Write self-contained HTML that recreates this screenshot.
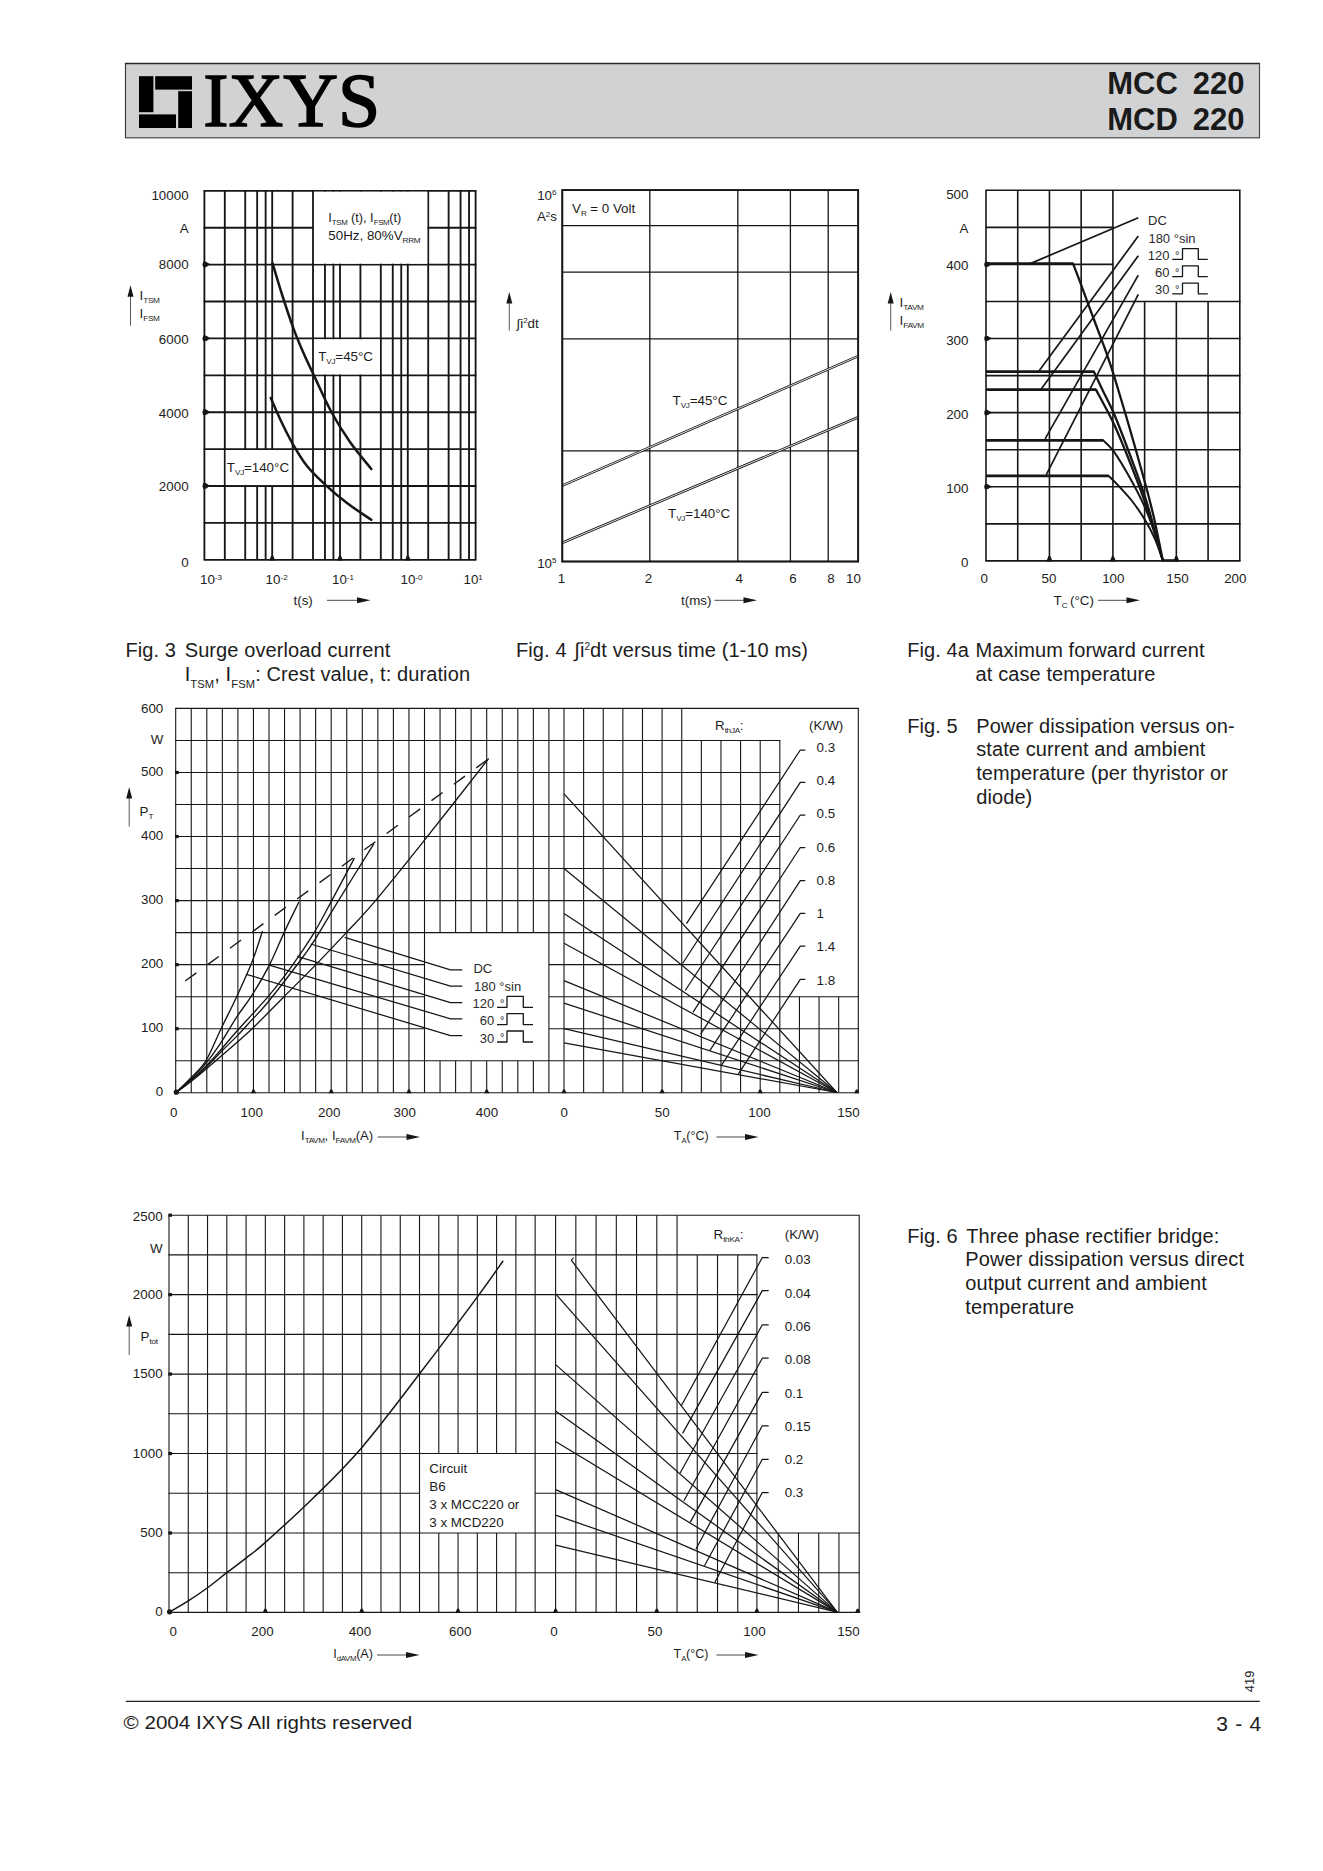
<!DOCTYPE html>
<html lang="en">
<head>
<meta charset="utf-8">
<title>IXYS MCC 220 / MCD 220</title>
<style>
html,body{margin:0;padding:0;background:#fff;}
body{width:1323px;height:1871px;overflow:hidden;}
svg{display:block;position:absolute;left:0;top:0;}
text{font-family:"Liberation Sans",sans-serif;fill:#1c1c1c;}
.serif{font-family:"Liberation Serif",serif;}
.b{font-weight:bold;}
</style>
</head>
<body>
<svg width="1323" height="1871" viewBox="0 0 1323 1871">
<rect x="125.5" y="63.5" width="1134" height="74.2" fill="#d1d2d4" stroke="none" stroke-width="0"/>
<line x1="124.9" y1="63.5" x2="1260.1" y2="63.5" stroke="#262626" stroke-width="1.3"/>
<line x1="124.9" y1="137.7" x2="1260.1" y2="137.7" stroke="#666" stroke-width="1.5"/>
<line x1="125.5" y1="63.5" x2="125.5" y2="137.7" stroke="#3c3c3c" stroke-width="1.2"/>
<line x1="1259.5" y1="63.5" x2="1259.5" y2="137.7" stroke="#4a4a4a" stroke-width="1.2"/>
<rect x="139" y="76.2" width="14.4" height="36" fill="#000" stroke="none" stroke-width="0"/>
<rect x="155.2" y="76.2" width="36.8" height="13.4" fill="#000" stroke="none" stroke-width="0"/>
<rect x="178.2" y="91.2" width="13.8" height="36.8" fill="#000" stroke="none" stroke-width="0"/>
<rect x="139" y="114.4" width="37" height="13.6" fill="#000" stroke="none" stroke-width="0"/>
<text x="203.2" y="126.2" font-size="75.2" style="fill:#000" class="serif" stroke="#000" stroke-width="1.5" stroke-linejoin="miter" textLength="177" lengthAdjust="spacingAndGlyphs">IXYS</text>
<text x="1107.3" y="94.4" font-size="31" style="fill:#1a1a1a" class="b">MCC</text>
<text x="1244.6" y="94.4" font-size="31" text-anchor="end" style="fill:#1a1a1a" class="b">220</text>
<text x="1107.3" y="130.2" font-size="31" style="fill:#1a1a1a" class="b">MCD</text>
<text x="1244.6" y="130.2" font-size="31" text-anchor="end" style="fill:#1a1a1a" class="b">220</text>
<line x1="125.8" y1="1701.4" x2="1259.8" y2="1701.4" stroke="#222" stroke-width="1.1"/>
<text x="123.6" y="1728.9" font-size="19.2" textLength="288.6" lengthAdjust="spacingAndGlyphs">© 2004 IXYS All rights reserved</text>
<text x="1261.9" y="1731" font-size="21" text-anchor="end" letter-spacing="0.7">3 - 4</text>
<text x="1254.3" y="1692.3" font-size="13" transform="rotate(-90 1254.3 1692.3)">419</text>
<text x="125.4" y="656.5" font-size="20" letter-spacing="0.1">Fig. 3</text>
<text x="184.7" y="656.5" font-size="20" letter-spacing="0.1">Surge overload current</text>
<text x="184.7" y="680.7" font-size="20" letter-spacing="0.1">I<tspan font-size="11.2" dy="6.8">TSM</tspan><tspan dy="-6.8">, I</tspan><tspan font-size="11.2" dy="6.8">FSM</tspan><tspan dy="-6.8">: Crest value, t: duration</tspan></text>
<text x="516" y="656.5" font-size="20" letter-spacing="0.1">Fig. 4</text>
<text x="574.3" y="656.5" font-size="20" letter-spacing="0.1">∫i<tspan font-size="10" dy="-6.5">2</tspan><tspan dy="6.5">dt versus time (1-10 ms)</tspan></text>
<text x="907.2" y="656.5" font-size="20" letter-spacing="0.1">Fig. 4a</text>
<text x="975.6" y="656.5" font-size="20" letter-spacing="0.1">Maximum forward current</text>
<text x="975.6" y="680.7" font-size="20" letter-spacing="0.1">at case temperature</text>
<text x="907.2" y="732.6" font-size="20" letter-spacing="0.1">Fig. 5</text>
<text x="976.2" y="732.6" font-size="20" letter-spacing="0.1">Power dissipation versus on-</text>
<text x="976.2" y="756.4" font-size="20" letter-spacing="0.1">state current and ambient</text>
<text x="976.2" y="780.2" font-size="20" letter-spacing="0.1">temperature (per thyristor or</text>
<text x="976.2" y="804" font-size="20" letter-spacing="0.1">diode)</text>
<text x="907.2" y="1242.5" font-size="20" letter-spacing="0.1">Fig. 6</text>
<text x="966.3" y="1242.5" font-size="20" letter-spacing="0.1">Three phase rectifier bridge:</text>
<text x="965.3" y="1266.4" font-size="20" letter-spacing="0.1">Power dissipation versus direct</text>
<text x="965.3" y="1290.3" font-size="20" letter-spacing="0.1">output current and ambient</text>
<text x="965.3" y="1314.1" font-size="20" letter-spacing="0.1">temperature</text>
<line x1="204.4" y1="190.8" x2="204.4" y2="559.8" stroke="#161616" stroke-width="1.85"/>
<line x1="224.81" y1="190.8" x2="224.81" y2="559.8" stroke="#161616" stroke-width="1.85"/>
<line x1="245.22" y1="190.8" x2="245.22" y2="559.8" stroke="#161616" stroke-width="1.85"/>
<line x1="257.16" y1="190.8" x2="257.16" y2="559.8" stroke="#161616" stroke-width="1.85"/>
<line x1="265.63" y1="190.8" x2="265.63" y2="559.8" stroke="#161616" stroke-width="1.85"/>
<line x1="272.2" y1="190.8" x2="272.2" y2="559.8" stroke="#161616" stroke-width="1.85"/>
<line x1="292.61" y1="190.8" x2="292.61" y2="559.8" stroke="#161616" stroke-width="1.85"/>
<line x1="313.02" y1="190.8" x2="313.02" y2="559.8" stroke="#161616" stroke-width="1.85"/>
<line x1="324.96" y1="190.8" x2="324.96" y2="559.8" stroke="#161616" stroke-width="1.85"/>
<line x1="333.43" y1="190.8" x2="333.43" y2="559.8" stroke="#161616" stroke-width="1.85"/>
<line x1="340" y1="190.8" x2="340" y2="559.8" stroke="#161616" stroke-width="1.85"/>
<line x1="360.41" y1="190.8" x2="360.41" y2="559.8" stroke="#161616" stroke-width="1.85"/>
<line x1="380.82" y1="190.8" x2="380.82" y2="559.8" stroke="#161616" stroke-width="1.85"/>
<line x1="392.76" y1="190.8" x2="392.76" y2="559.8" stroke="#161616" stroke-width="1.85"/>
<line x1="401.23" y1="190.8" x2="401.23" y2="559.8" stroke="#161616" stroke-width="1.85"/>
<line x1="407.8" y1="190.8" x2="407.8" y2="559.8" stroke="#161616" stroke-width="1.85"/>
<line x1="428.21" y1="190.8" x2="428.21" y2="559.8" stroke="#161616" stroke-width="1.85"/>
<line x1="448.62" y1="190.8" x2="448.62" y2="559.8" stroke="#161616" stroke-width="1.85"/>
<line x1="460.56" y1="190.8" x2="460.56" y2="559.8" stroke="#161616" stroke-width="1.85"/>
<line x1="469.03" y1="190.8" x2="469.03" y2="559.8" stroke="#161616" stroke-width="1.85"/>
<line x1="475.6" y1="190.8" x2="475.6" y2="559.8" stroke="#161616" stroke-width="1.85"/>
<line x1="203.6" y1="190.8" x2="476.4" y2="190.8" stroke="#161616" stroke-width="1.85"/>
<line x1="203.6" y1="227.7" x2="476.4" y2="227.7" stroke="#161616" stroke-width="1.85"/>
<line x1="203.6" y1="264.6" x2="476.4" y2="264.6" stroke="#161616" stroke-width="1.85"/>
<line x1="203.6" y1="301.5" x2="476.4" y2="301.5" stroke="#161616" stroke-width="1.85"/>
<line x1="203.6" y1="338.4" x2="476.4" y2="338.4" stroke="#161616" stroke-width="1.85"/>
<line x1="203.6" y1="375.3" x2="476.4" y2="375.3" stroke="#161616" stroke-width="1.85"/>
<line x1="203.6" y1="412.2" x2="476.4" y2="412.2" stroke="#161616" stroke-width="1.85"/>
<line x1="203.6" y1="449.1" x2="476.4" y2="449.1" stroke="#161616" stroke-width="1.85"/>
<line x1="203.6" y1="486" x2="476.4" y2="486" stroke="#161616" stroke-width="1.85"/>
<line x1="203.6" y1="522.9" x2="476.4" y2="522.9" stroke="#161616" stroke-width="1.85"/>
<line x1="203.6" y1="559.8" x2="476.4" y2="559.8" stroke="#161616" stroke-width="1.85"/>
<rect x="313.94" y="191.73" width="113.34" height="71.95" fill="#fff" stroke="none" stroke-width="0"/>
<rect x="313.94" y="339.32" width="65.95" height="35.05" fill="#fff" stroke="none" stroke-width="0"/>
<rect x="225.73" y="450.02" width="65.95" height="35.05" fill="#fff" stroke="none" stroke-width="0"/>
<path d="M272.6 263.3 C274.25 268.75 278.97 284.98 282.5 296 C286.03 307.02 290.3 319.9 293.8 329.4 C297.3 338.9 300.15 345.33 303.5 353 C306.85 360.67 309.3 365.65 313.9 375.4 C318.5 385.15 325.08 400.4 331.1 411.5 C337.12 422.6 343.3 432.42 350 442 C356.7 451.58 367.75 464.5 371.3 469" fill="none" stroke="#161616" stroke-width="2.5" stroke-linecap="round"/>
<path d="M270.8 398 C272.5 401.83 277.42 413.48 281 421 C284.58 428.52 287.97 435.6 292.3 443.1 C296.63 450.6 301.48 459.05 307 466 C312.52 472.95 318.73 478.63 325.4 484.8 C332.07 490.97 339.35 497.17 347 503 C354.65 508.83 367.25 517 371.3 519.8" fill="none" stroke="#161616" stroke-width="2.5" stroke-linecap="round"/>
<polygon points="203.2,261.6 205.6,261.8 210.9,264.6 203.2,267.6" fill="#161616"/>
<circle cx="205.2" cy="264.6" r="2.7" fill="#161616"/>
<polygon points="203.2,335.4 205.6,335.6 210.9,338.4 203.2,341.4" fill="#161616"/>
<circle cx="205.2" cy="338.4" r="2.7" fill="#161616"/>
<polygon points="203.2,409.2 205.6,409.4 210.9,412.2 203.2,415.2" fill="#161616"/>
<circle cx="205.2" cy="412.2" r="2.7" fill="#161616"/>
<polygon points="203.2,483 205.6,483.2 210.9,486 203.2,489" fill="#161616"/>
<circle cx="205.2" cy="486" r="2.7" fill="#161616"/>
<polygon points="269.2,560.4 275.2,560.4 273.1,555.4 271.3,555.4" fill="#161616"/>
<polygon points="337,560.4 343,560.4 340.9,555.4 339.1,555.4" fill="#161616"/>
<polygon points="404.8,560.4 410.8,560.4 408.7,555.4 406.9,555.4" fill="#161616"/>
<text transform="translate(188.6 199.6) scale(1.07 1)" font-size="12.5" text-anchor="end">10000</text>
<text transform="translate(188.6 233.3) scale(1.07 1)" font-size="12.5" text-anchor="end">A</text>
<text transform="translate(188.6 269.3) scale(1.07 1)" font-size="12.5" text-anchor="end">8000</text>
<text transform="translate(188.6 344) scale(1.07 1)" font-size="12.5" text-anchor="end">6000</text>
<text transform="translate(188.6 418.3) scale(1.07 1)" font-size="12.5" text-anchor="end">4000</text>
<text transform="translate(188.6 490.6) scale(1.07 1)" font-size="12.5" text-anchor="end">2000</text>
<text transform="translate(188.6 566.5) scale(1.07 1)" font-size="12.5" text-anchor="end">0</text>
<line x1="130.5" y1="295.7" x2="130.5" y2="325.7" stroke="#444" stroke-width="0.9"/>
<polygon points="130.5,285.2 127.5,296.7 133.5,296.7" fill="#161616"/>
<text transform="translate(139.5 300.3) scale(1.07 1)" font-size="12.5">I<tspan font-size="7.7" dy="3.1" letter-spacing="-0.3">TSM</tspan></text>
<text transform="translate(139.5 317.9) scale(1.07 1)" font-size="12.5">I<tspan font-size="7.7" dy="3.1" letter-spacing="-0.3">FSM</tspan></text>
<text transform="translate(200 584) scale(1.07 1)" font-size="12.5">10<tspan font-size="7.5" dy="-4.5">-3</tspan></text>
<text transform="translate(265.6 584) scale(1.07 1)" font-size="12.5">10<tspan font-size="7.5" dy="-4.5">-2</tspan></text>
<text transform="translate(332 584) scale(1.07 1)" font-size="12.5">10<tspan font-size="7.5" dy="-4.5">-1</tspan></text>
<text transform="translate(400.5 584) scale(1.07 1)" font-size="12.5">10<tspan font-size="7.5" dy="-4.5">-0</tspan></text>
<text transform="translate(463.5 584) scale(1.07 1)" font-size="12.5">10<tspan font-size="7.5" dy="-4.5">1</tspan></text>
<text transform="translate(293.5 605) scale(1.07 1)" font-size="12.5">t(s)</text>
<line x1="327" y1="600.3" x2="358" y2="600.3" stroke="#333" stroke-width="0.9"/>
<polygon points="370.5,600.3 357,597.3 357,603.3" fill="#161616"/>
<text transform="translate(328.3 222.2) scale(1.02 1)" font-size="12.5">I<tspan font-size="7.7" dy="3.1" letter-spacing="-0.3">TSM</tspan><tspan dy="-3.1"> (t), I</tspan><tspan font-size="7.7" dy="3.1" letter-spacing="-0.3">FSM</tspan><tspan dy="-3.1">(t)</tspan></text>
<text transform="translate(328.3 240) scale(1.07 1)" font-size="12.5">50Hz, 80%V<tspan font-size="7.7" dy="3.1" letter-spacing="-0.3">RRM</tspan></text>
<text transform="translate(318.2 361) scale(1.07 1)" font-size="12.5">T<tspan font-size="7.7" dy="3.1" letter-spacing="-0.3">VJ</tspan><tspan dy="-3.1">=45°C</tspan></text>
<text transform="translate(226.8 471.9) scale(1.07 1)" font-size="12.5">T<tspan font-size="7.7" dy="3.1" letter-spacing="-0.3">VJ</tspan><tspan dy="-3.1">=140°C</tspan></text>
<line x1="649.8" y1="190.1" x2="649.8" y2="561.5" stroke="#161616" stroke-width="1.3"/>
<line x1="737.8" y1="190.1" x2="737.8" y2="561.5" stroke="#161616" stroke-width="1.3"/>
<line x1="790.4" y1="190.1" x2="790.4" y2="561.5" stroke="#161616" stroke-width="1.3"/>
<line x1="828.2" y1="190.1" x2="828.2" y2="561.5" stroke="#161616" stroke-width="1.3"/>
<line x1="562.3" y1="450.9" x2="858.2" y2="450.9" stroke="#161616" stroke-width="1.3"/>
<line x1="562.3" y1="338.9" x2="858.2" y2="338.9" stroke="#161616" stroke-width="1.3"/>
<line x1="562.3" y1="272.2" x2="858.2" y2="272.2" stroke="#161616" stroke-width="1.3"/>
<line x1="562.3" y1="225.6" x2="858.2" y2="225.6" stroke="#161616" stroke-width="1.3"/>
<rect x="562.3" y="190.1" width="295.9" height="371.4" fill="none" stroke="#161616" stroke-width="1.7"/>
<line x1="562.3" y1="485.6" x2="858.2" y2="356.1" stroke="#161616" stroke-width="2.6"/>
<line x1="562.3" y1="485.6" x2="858.2" y2="356.1" stroke="#fff" stroke-width="0.9"/>
<line x1="562.3" y1="542.8" x2="858.2" y2="417.3" stroke="#161616" stroke-width="2.6"/>
<line x1="562.3" y1="542.8" x2="858.2" y2="417.3" stroke="#fff" stroke-width="0.9"/>
<rect x="562.3" y="190.1" width="295.9" height="371.4" fill="none" stroke="#161616" stroke-width="1.7"/>
<text transform="translate(556.5 199.6) scale(1.07 1)" font-size="12.5" text-anchor="end">10<tspan font-size="7.5" dy="-4.5">6</tspan></text>
<text transform="translate(557 221) scale(1.07 1)" font-size="12.5" text-anchor="end">A<tspan font-size="7.5" dy="-4.5">2</tspan><tspan dy="4.5">s</tspan></text>
<text transform="translate(556.5 567.5) scale(1.07 1)" font-size="12.5" text-anchor="end">10<tspan font-size="7.5" dy="-4.5">5</tspan></text>
<line x1="509.3" y1="302.5" x2="509.3" y2="330.5" stroke="#444" stroke-width="0.9"/>
<polygon points="509.3,292 506.3,303.5 512.3,303.5" fill="#161616"/>
<text transform="translate(516.5 327.5) scale(1.07 1)" font-size="12.5">∫i<tspan font-size="7.5" dy="-4.5">2</tspan><tspan dy="4.5">dt</tspan></text>
<text transform="translate(561.5 582.5) scale(1.07 1)" font-size="12.5" text-anchor="middle">1</text>
<text transform="translate(648.5 582.5) scale(1.07 1)" font-size="12.5" text-anchor="middle">2</text>
<text transform="translate(739.2 582.5) scale(1.07 1)" font-size="12.5" text-anchor="middle">4</text>
<text transform="translate(793 582.5) scale(1.07 1)" font-size="12.5" text-anchor="middle">6</text>
<text transform="translate(831 582.5) scale(1.07 1)" font-size="12.5" text-anchor="middle">8</text>
<text transform="translate(853.5 582.5) scale(1.07 1)" font-size="12.5" text-anchor="middle">10</text>
<text transform="translate(681 605) scale(1.07 1)" font-size="12.5">t(ms)</text>
<line x1="714.5" y1="600.3" x2="744.5" y2="600.3" stroke="#333" stroke-width="0.9"/>
<polygon points="757,600.3 743.5,597.3 743.5,603.3" fill="#161616"/>
<text transform="translate(572 212.5) scale(1.07 1)" font-size="12.5">V<tspan font-size="7.7" dy="3.1" letter-spacing="-0.3">R</tspan><tspan dy="-3.1"> = 0 Volt</tspan></text>
<text transform="translate(672.5 405.3) scale(1.07 1)" font-size="12.5">T<tspan font-size="7.7" dy="3.1" letter-spacing="-0.3">VJ</tspan><tspan dy="-3.1">=45°C</tspan></text>
<text transform="translate(668 517.5) scale(1.07 1)" font-size="12.5">T<tspan font-size="7.7" dy="3.1" letter-spacing="-0.3">VJ</tspan><tspan dy="-3.1">=140°C</tspan></text>
<line x1="986" y1="190.3" x2="986" y2="560.9" stroke="#161616" stroke-width="1.6"/>
<line x1="1017.73" y1="190.3" x2="1017.73" y2="560.9" stroke="#161616" stroke-width="1.6"/>
<line x1="1049.45" y1="190.3" x2="1049.45" y2="560.9" stroke="#161616" stroke-width="1.6"/>
<line x1="1081.17" y1="190.3" x2="1081.17" y2="560.9" stroke="#161616" stroke-width="1.6"/>
<line x1="1112.9" y1="190.3" x2="1112.9" y2="560.9" stroke="#161616" stroke-width="1.6"/>
<line x1="1144.62" y1="301.48" x2="1144.62" y2="560.9" stroke="#161616" stroke-width="1.6"/>
<line x1="1176.35" y1="301.48" x2="1176.35" y2="560.9" stroke="#161616" stroke-width="1.6"/>
<line x1="1208.08" y1="301.48" x2="1208.08" y2="560.9" stroke="#161616" stroke-width="1.6"/>
<line x1="1239.8" y1="190.3" x2="1239.8" y2="560.9" stroke="#161616" stroke-width="1.6"/>
<line x1="985.3" y1="190.3" x2="1240.5" y2="190.3" stroke="#161616" stroke-width="1.6"/>
<line x1="985.3" y1="227.36" x2="1113.6" y2="227.36" stroke="#161616" stroke-width="1.6"/>
<line x1="985.3" y1="264.42" x2="1113.6" y2="264.42" stroke="#161616" stroke-width="1.6"/>
<line x1="985.3" y1="301.48" x2="1240.5" y2="301.48" stroke="#161616" stroke-width="1.6"/>
<line x1="985.3" y1="338.54" x2="1240.5" y2="338.54" stroke="#161616" stroke-width="1.6"/>
<line x1="985.3" y1="375.6" x2="1240.5" y2="375.6" stroke="#161616" stroke-width="1.6"/>
<line x1="985.3" y1="412.66" x2="1240.5" y2="412.66" stroke="#161616" stroke-width="1.6"/>
<line x1="985.3" y1="449.72" x2="1240.5" y2="449.72" stroke="#161616" stroke-width="1.6"/>
<line x1="985.3" y1="486.78" x2="1240.5" y2="486.78" stroke="#161616" stroke-width="1.6"/>
<line x1="985.3" y1="523.84" x2="1240.5" y2="523.84" stroke="#161616" stroke-width="1.6"/>
<line x1="985.3" y1="560.9" x2="1240.5" y2="560.9" stroke="#161616" stroke-width="1.6"/>
<polyline points="986,263.6 1073,263.6" fill="none" stroke="#161616" stroke-width="2.6" stroke-linejoin="round"/>
<path d="M1073 263.6 C1074.42 267.3 1078.17 276.9 1081.5 285.8 C1084.83 294.7 1089.02 306.3 1093 317 C1096.98 327.7 1101.92 340.27 1105.4 350 C1108.88 359.73 1109.97 362.73 1113.9 375.4 C1117.83 388.07 1123.88 408.37 1129 426 C1134.12 443.63 1140.43 465.87 1144.6 481.2 C1148.77 496.53 1150.97 504.8 1154 518 C1157.03 531.2 1161.33 553.33 1162.8 560.4" fill="none" stroke="#161616" stroke-width="2.3" stroke-linecap="round"/>
<polyline points="986,371.6 1093.8,371.6" fill="none" stroke="#161616" stroke-width="2.8" stroke-linejoin="round"/>
<path d="M1093.8 371.6 C1095.33 374.83 1099.65 384.02 1103 391 C1106.35 397.98 1109.4 402.83 1113.9 413.5 C1118.4 424.17 1124.65 440.58 1130 455 C1135.35 469.42 1140.53 482.43 1146 500 C1151.47 517.57 1160 550.33 1162.8 560.4" fill="none" stroke="#161616" stroke-width="2.3" stroke-linecap="round"/>
<polyline points="986,389.6 1095.9,389.6" fill="none" stroke="#161616" stroke-width="2.6" stroke-linejoin="round"/>
<path d="M1095.9 389.6 C1098.9 395.33 1108.05 411.43 1113.9 424 C1119.75 436.57 1125.48 451 1131 465 C1136.52 479 1141.7 492.1 1147 508 C1152.3 523.9 1160.17 551.67 1162.8 560.4" fill="none" stroke="#161616" stroke-width="2.3" stroke-linecap="round"/>
<polyline points="986,440.4 1103.3,440.4" fill="none" stroke="#161616" stroke-width="2.6" stroke-linejoin="round"/>
<path d="M1103.3 440.4 C1105.07 442.27 1109.45 445.33 1113.9 451.6 C1118.35 457.87 1124.88 468.83 1130 478 C1135.12 487.17 1140.43 497.27 1144.6 506.6 C1148.77 515.93 1151.97 525.03 1155 534 C1158.03 542.97 1161.5 556 1162.8 560.4" fill="none" stroke="#161616" stroke-width="2" stroke-linecap="round"/>
<polyline points="986,475.9 1108.6,475.9" fill="none" stroke="#161616" stroke-width="2.6" stroke-linejoin="round"/>
<path d="M1108.6 475.9 C1110.18 477.48 1114.2 481.22 1118.1 485.4 C1122 489.58 1127.58 495.35 1132 501 C1136.42 506.65 1140.77 512.97 1144.6 519.3 C1148.43 525.63 1151.97 532.15 1155 539 C1158.03 545.85 1161.5 556.83 1162.8 560.4" fill="none" stroke="#161616" stroke-width="2" stroke-linecap="round"/>
<polyline points="1162.8,560.4 1178,560.4" fill="none" stroke="#161616" stroke-width="2.4" stroke-linejoin="round"/>
<line x1="1030.3" y1="263.6" x2="1138.3" y2="217.7" stroke="#161616" stroke-width="1.7"/>
<line x1="1038.8" y1="371.2" x2="1138.3" y2="236.1" stroke="#161616" stroke-width="1.7"/>
<line x1="1040.9" y1="389.6" x2="1138.3" y2="255.8" stroke="#161616" stroke-width="1.7"/>
<line x1="1045.1" y1="438.9" x2="1138.3" y2="275.2" stroke="#161616" stroke-width="1.7"/>
<line x1="1046.2" y1="474.9" x2="1138.3" y2="294.3" stroke="#161616" stroke-width="1.7"/>
<polygon points="984.8,261.62 987.2,261.82 992.5,264.42 984.8,267.22" fill="#161616"/>
<circle cx="986.8" cy="264.42" r="2.5" fill="#161616"/>
<polygon points="984.8,335.74 987.2,335.94 992.5,338.54 984.8,341.34" fill="#161616"/>
<circle cx="986.8" cy="338.54" r="2.5" fill="#161616"/>
<polygon points="984.8,409.86 987.2,410.06 992.5,412.66 984.8,415.46" fill="#161616"/>
<circle cx="986.8" cy="412.66" r="2.5" fill="#161616"/>
<polygon points="984.8,483.98 987.2,484.18 992.5,486.78 984.8,489.58" fill="#161616"/>
<circle cx="986.8" cy="486.78" r="2.5" fill="#161616"/>
<polygon points="1046.25,561.5 1052.65,561.5 1050.35,556 1048.55,556" fill="#161616"/>
<polygon points="1109.7,561.5 1116.1,561.5 1113.8,556 1112,556" fill="#161616"/>
<polygon points="1173.15,561.5 1179.55,561.5 1177.25,556 1175.45,556" fill="#161616"/>
<text transform="translate(968.5 199.2) scale(1.07 1)" font-size="12.5" text-anchor="end">500</text>
<text transform="translate(968.5 233.3) scale(1.07 1)" font-size="12.5" text-anchor="end">A</text>
<text transform="translate(968.5 269.5) scale(1.07 1)" font-size="12.5" text-anchor="end">400</text>
<text transform="translate(968.5 344.5) scale(1.07 1)" font-size="12.5" text-anchor="end">300</text>
<text transform="translate(968.5 418.7) scale(1.07 1)" font-size="12.5" text-anchor="end">200</text>
<text transform="translate(968.5 492.7) scale(1.07 1)" font-size="12.5" text-anchor="end">100</text>
<text transform="translate(968.5 566.5) scale(1.07 1)" font-size="12.5" text-anchor="end">0</text>
<line x1="890.7" y1="302.5" x2="890.7" y2="330.5" stroke="#444" stroke-width="0.9"/>
<polygon points="890.7,292 887.7,303.5 893.7,303.5" fill="#161616"/>
<text transform="translate(899.5 307) scale(1.07 1)" font-size="12.5">I<tspan font-size="7.7" dy="3.1" letter-spacing="-0.3">TAVM</tspan></text>
<text transform="translate(899.5 325) scale(1.07 1)" font-size="12.5">I<tspan font-size="7.7" dy="3.1" letter-spacing="-0.3">FAVM</tspan></text>
<text transform="translate(984.3 582.5) scale(1.07 1)" font-size="12.5" text-anchor="middle">0</text>
<text transform="translate(1049 582.5) scale(1.07 1)" font-size="12.5" text-anchor="middle">50</text>
<text transform="translate(1113.3 582.5) scale(1.07 1)" font-size="12.5" text-anchor="middle">100</text>
<text transform="translate(1177.5 582.5) scale(1.07 1)" font-size="12.5" text-anchor="middle">150</text>
<text transform="translate(1235.3 582.5) scale(1.07 1)" font-size="12.5" text-anchor="middle">200</text>
<text transform="translate(1053.5 605) scale(1.07 1)" font-size="12.5">T<tspan font-size="7.7" dy="3.1" letter-spacing="-0.3">C</tspan><tspan dy="-3.1"> (°C)</tspan></text>
<line x1="1098" y1="600.3" x2="1127.5" y2="600.3" stroke="#333" stroke-width="0.9"/>
<polygon points="1140,600.3 1126.5,597.3 1126.5,603.3" fill="#161616"/>
<text transform="translate(1148 225.2) scale(1 1)" font-size="13" style="fill:#2b2b2b">DC</text>
<text transform="translate(1148.4 242.7) scale(1 1)" font-size="13" style="fill:#2b2b2b">180 °sin</text>
<text transform="translate(1169.5 259.8) scale(1 1)" font-size="13" text-anchor="end" style="fill:#2b2b2b">120</text>
<text transform="translate(1174.9 258.9) scale(1 1)" font-size="11">°</text>
<polyline points="1172.2,259.3 1182.5,259.3 1182.5,248.6 1198.3,248.6 1198.3,259.3 1207.8,259.3" fill="none" stroke="#161616" stroke-width="1.3" stroke-linejoin="round"/>
<text transform="translate(1169.5 277.1) scale(1 1)" font-size="13" text-anchor="end" style="fill:#2b2b2b">60</text>
<text transform="translate(1174.9 276.2) scale(1 1)" font-size="11">°</text>
<polyline points="1172.2,276.6 1182.5,276.6 1182.5,265.9 1198.3,265.9 1198.3,276.6 1207.8,276.6" fill="none" stroke="#161616" stroke-width="1.3" stroke-linejoin="round"/>
<text transform="translate(1169.5 294.3) scale(1 1)" font-size="13" text-anchor="end" style="fill:#2b2b2b">30</text>
<text transform="translate(1174.9 293.4) scale(1 1)" font-size="11">°</text>
<polyline points="1172.2,293.8 1182.5,293.8 1182.5,283.1 1198.3,283.1 1198.3,293.8 1207.8,293.8" fill="none" stroke="#161616" stroke-width="1.3" stroke-linejoin="round"/>
<line x1="175.7" y1="708.4" x2="175.7" y2="1092.8" stroke="#161616" stroke-width="1.1"/>
<line x1="191.25" y1="708.4" x2="191.25" y2="1092.8" stroke="#161616" stroke-width="1.1"/>
<line x1="206.8" y1="708.4" x2="206.8" y2="1092.8" stroke="#161616" stroke-width="1.1"/>
<line x1="222.35" y1="708.4" x2="222.35" y2="1092.8" stroke="#161616" stroke-width="1.1"/>
<line x1="237.9" y1="708.4" x2="237.9" y2="1092.8" stroke="#161616" stroke-width="1.1"/>
<line x1="253.45" y1="708.4" x2="253.45" y2="1092.8" stroke="#161616" stroke-width="1.1"/>
<line x1="269" y1="708.4" x2="269" y2="1092.8" stroke="#161616" stroke-width="1.1"/>
<line x1="284.55" y1="708.4" x2="284.55" y2="1092.8" stroke="#161616" stroke-width="1.1"/>
<line x1="300.1" y1="708.4" x2="300.1" y2="1092.8" stroke="#161616" stroke-width="1.1"/>
<line x1="315.65" y1="708.4" x2="315.65" y2="1092.8" stroke="#161616" stroke-width="1.1"/>
<line x1="331.2" y1="708.4" x2="331.2" y2="1092.8" stroke="#161616" stroke-width="1.1"/>
<line x1="346.75" y1="708.4" x2="346.75" y2="1092.8" stroke="#161616" stroke-width="1.1"/>
<line x1="362.3" y1="708.4" x2="362.3" y2="1092.8" stroke="#161616" stroke-width="1.1"/>
<line x1="377.85" y1="708.4" x2="377.85" y2="1092.8" stroke="#161616" stroke-width="1.1"/>
<line x1="393.4" y1="708.4" x2="393.4" y2="1092.8" stroke="#161616" stroke-width="1.1"/>
<line x1="408.95" y1="708.4" x2="408.95" y2="1092.8" stroke="#161616" stroke-width="1.1"/>
<line x1="424.5" y1="708.4" x2="424.5" y2="1092.8" stroke="#161616" stroke-width="1.1"/>
<line x1="440.05" y1="708.4" x2="440.05" y2="932.63" stroke="#161616" stroke-width="1.1"/>
<line x1="440.05" y1="1060.77" x2="440.05" y2="1092.8" stroke="#161616" stroke-width="1.1"/>
<line x1="455.6" y1="708.4" x2="455.6" y2="932.63" stroke="#161616" stroke-width="1.1"/>
<line x1="455.6" y1="1060.77" x2="455.6" y2="1092.8" stroke="#161616" stroke-width="1.1"/>
<line x1="471.15" y1="708.4" x2="471.15" y2="932.63" stroke="#161616" stroke-width="1.1"/>
<line x1="471.15" y1="1060.77" x2="471.15" y2="1092.8" stroke="#161616" stroke-width="1.1"/>
<line x1="486.7" y1="708.4" x2="486.7" y2="932.63" stroke="#161616" stroke-width="1.1"/>
<line x1="486.7" y1="1060.77" x2="486.7" y2="1092.8" stroke="#161616" stroke-width="1.1"/>
<line x1="502.25" y1="708.4" x2="502.25" y2="932.63" stroke="#161616" stroke-width="1.1"/>
<line x1="502.25" y1="1060.77" x2="502.25" y2="1092.8" stroke="#161616" stroke-width="1.1"/>
<line x1="517.8" y1="708.4" x2="517.8" y2="932.63" stroke="#161616" stroke-width="1.1"/>
<line x1="517.8" y1="1060.77" x2="517.8" y2="1092.8" stroke="#161616" stroke-width="1.1"/>
<line x1="533.35" y1="708.4" x2="533.35" y2="932.63" stroke="#161616" stroke-width="1.1"/>
<line x1="533.35" y1="1060.77" x2="533.35" y2="1092.8" stroke="#161616" stroke-width="1.1"/>
<line x1="548.9" y1="708.4" x2="548.9" y2="1092.8" stroke="#161616" stroke-width="1.1"/>
<line x1="564" y1="708.4" x2="564" y2="1092.8" stroke="#161616" stroke-width="1.1"/>
<line x1="583.62" y1="708.4" x2="583.62" y2="1092.8" stroke="#161616" stroke-width="1.1"/>
<line x1="603.24" y1="708.4" x2="603.24" y2="1092.8" stroke="#161616" stroke-width="1.1"/>
<line x1="622.86" y1="708.4" x2="622.86" y2="1092.8" stroke="#161616" stroke-width="1.1"/>
<line x1="642.48" y1="708.4" x2="642.48" y2="1092.8" stroke="#161616" stroke-width="1.1"/>
<line x1="662.1" y1="708.4" x2="662.1" y2="1092.8" stroke="#161616" stroke-width="1.1"/>
<line x1="681.72" y1="708.4" x2="681.72" y2="1092.8" stroke="#161616" stroke-width="1.1"/>
<line x1="701.34" y1="740.43" x2="701.34" y2="1092.8" stroke="#161616" stroke-width="1.1"/>
<line x1="720.96" y1="740.43" x2="720.96" y2="1092.8" stroke="#161616" stroke-width="1.1"/>
<line x1="740.58" y1="740.43" x2="740.58" y2="1092.8" stroke="#161616" stroke-width="1.1"/>
<line x1="760.2" y1="740.43" x2="760.2" y2="1092.8" stroke="#161616" stroke-width="1.1"/>
<line x1="779.82" y1="740.43" x2="779.82" y2="1092.8" stroke="#161616" stroke-width="1.1"/>
<line x1="799.44" y1="996.7" x2="799.44" y2="1092.8" stroke="#161616" stroke-width="1.1"/>
<line x1="819.06" y1="996.7" x2="819.06" y2="1092.8" stroke="#161616" stroke-width="1.1"/>
<line x1="838.68" y1="996.7" x2="838.68" y2="1092.8" stroke="#161616" stroke-width="1.1"/>
<line x1="858.3" y1="708.4" x2="858.3" y2="1092.8" stroke="#161616" stroke-width="1.1"/>
<line x1="175.1" y1="1092.8" x2="858.9" y2="1092.8" stroke="#161616" stroke-width="1.1"/>
<line x1="175.1" y1="1060.77" x2="858.9" y2="1060.77" stroke="#161616" stroke-width="1.1"/>
<line x1="175.1" y1="1028.73" x2="424.5" y2="1028.73" stroke="#161616" stroke-width="1.1"/>
<line x1="548.9" y1="1028.73" x2="858.9" y2="1028.73" stroke="#161616" stroke-width="1.1"/>
<line x1="175.1" y1="996.7" x2="424.5" y2="996.7" stroke="#161616" stroke-width="1.1"/>
<line x1="548.9" y1="996.7" x2="858.9" y2="996.7" stroke="#161616" stroke-width="1.1"/>
<line x1="175.1" y1="964.67" x2="424.5" y2="964.67" stroke="#161616" stroke-width="1.1"/>
<line x1="548.9" y1="964.67" x2="780.42" y2="964.67" stroke="#161616" stroke-width="1.1"/>
<line x1="175.1" y1="932.63" x2="780.42" y2="932.63" stroke="#161616" stroke-width="1.1"/>
<line x1="175.1" y1="900.6" x2="780.42" y2="900.6" stroke="#161616" stroke-width="1.1"/>
<line x1="175.1" y1="868.57" x2="780.42" y2="868.57" stroke="#161616" stroke-width="1.1"/>
<line x1="175.1" y1="836.53" x2="780.42" y2="836.53" stroke="#161616" stroke-width="1.1"/>
<line x1="175.1" y1="804.5" x2="780.42" y2="804.5" stroke="#161616" stroke-width="1.1"/>
<line x1="175.1" y1="772.47" x2="780.42" y2="772.47" stroke="#161616" stroke-width="1.1"/>
<line x1="175.1" y1="740.43" x2="780.42" y2="740.43" stroke="#161616" stroke-width="1.1"/>
<line x1="175.1" y1="708.4" x2="858.9" y2="708.4" stroke="#161616" stroke-width="1.1"/>
<path d="M175.7 1092.8 C178.29 1090.24 186.22 1082.76 191.25 1077.42 C196.28 1072.09 200.92 1068.85 205.87 1060.77 C210.82 1052.68 215.79 1039.65 220.95 1028.93 C226.11 1018.21 231.65 1007.54 236.81 996.44 C241.97 985.35 247.63 973.21 251.89 962.36 C256.16 951.51 260.64 936.52 262.39 931.35" fill="none" stroke="#161616" stroke-width="1.35" stroke-linecap="round"/>
<path d="M175.7 1092.8 C178.29 1090.45 186.07 1083.83 191.25 1078.71 C196.43 1073.58 201.85 1068.07 206.8 1062.05 C211.75 1056.03 215.95 1050.11 220.95 1042.57 C225.95 1035.03 231.65 1024.68 236.81 1016.82 C241.97 1008.96 246.49 1003.99 251.89 995.42 C257.3 986.84 263.83 975.92 269.23 965.37 C274.64 954.82 279.42 942.6 284.32 932.12 C289.21 921.65 296.24 907.46 298.62 902.52" fill="none" stroke="#161616" stroke-width="1.35" stroke-linecap="round"/>
<path d="M175.7 1092.8 C178.29 1090.66 186.07 1084.58 191.25 1079.99 C196.43 1075.4 201.62 1070.59 206.8 1065.25 C211.98 1059.91 217.35 1053.61 222.35 1047.95 C227.35 1042.29 231.89 1036.85 236.81 1031.3 C241.74 1025.74 246.75 1020.33 251.89 1014.64 C257.04 1008.95 262.53 1003.18 267.68 997.15 C272.82 991.12 277.6 985.24 282.76 978.44 C287.92 971.64 293.34 964.06 298.62 956.34 C303.91 948.62 309.21 940.95 314.48 932.12 C319.76 923.29 323.66 915.61 330.27 903.35 C336.88 891.1 350.16 866.04 354.14 858.57" fill="none" stroke="#161616" stroke-width="1.35" stroke-linecap="round"/>
<path d="M175.7 1092.8 C178.29 1090.77 186.07 1085.01 191.25 1080.63 C196.43 1076.25 201.62 1071.55 206.8 1066.53 C211.98 1061.51 217.17 1055.75 222.35 1050.52 C227.53 1045.28 232.98 1040.24 237.9 1035.14 C242.82 1030.04 246.93 1025.34 251.89 1019.89 C256.86 1014.45 259.89 1011.99 267.68 1002.47 C275.47 992.94 290.82 973.1 298.62 962.74 C306.42 952.39 307.82 950.72 314.48 940.32 C321.14 929.92 328.72 916.36 338.59 900.34 C348.45 884.33 367.81 853.58 373.65 844.22" fill="none" stroke="#161616" stroke-width="1.35" stroke-linecap="round"/>
<path d="M175.7 1092.8 C178.29 1090.88 186.07 1085.33 191.25 1081.27 C196.43 1077.21 201.62 1072.83 206.8 1068.45 C211.98 1064.08 214.83 1061.59 222.35 1055 C229.87 1048.41 241.7 1038.57 251.89 1028.93 C262.09 1019.28 272.99 1007.74 283.54 997.15 C294.09 986.56 304.75 976.08 315.18 965.37 C325.61 954.66 336.07 943.68 346.13 932.89 C356.18 922.09 362.52 915.98 375.52 900.6 C388.51 885.22 405.32 864.23 424.11 840.63 C442.9 817.04 477.56 772.62 488.26 759.01" fill="none" stroke="#161616" stroke-width="1.35" stroke-linecap="round"/>
<line x1="185.2" y1="981" x2="487.9" y2="759.3" stroke="#161616" stroke-width="1.35" stroke-dasharray="13.8 13.95"/>
<polyline points="344.6,937.3 450.5,969.9 462.3,969.9" fill="none" stroke="#161616" stroke-width="1.25" stroke-linejoin="round"/>
<polyline points="310.6,944 450.5,986.1 462.3,986.1" fill="none" stroke="#161616" stroke-width="1.25" stroke-linejoin="round"/>
<polyline points="297.2,956.4 450.5,1002.6 462.3,1002.6" fill="none" stroke="#161616" stroke-width="1.25" stroke-linejoin="round"/>
<polyline points="269.2,965.2 450.5,1018.8 462.3,1018.8" fill="none" stroke="#161616" stroke-width="1.25" stroke-linejoin="round"/>
<polyline points="246.3,974.3 450.5,1035.6 462.3,1035.6" fill="none" stroke="#161616" stroke-width="1.25" stroke-linejoin="round"/>
<line x1="564" y1="793.82" x2="836.88" y2="1092.5" stroke="#161616" stroke-width="1.25"/>
<line x1="564" y1="868.57" x2="836.88" y2="1092.5" stroke="#161616" stroke-width="1.25"/>
<line x1="564" y1="913.41" x2="836.88" y2="1092.5" stroke="#161616" stroke-width="1.25"/>
<line x1="564" y1="943.31" x2="836.88" y2="1092.5" stroke="#161616" stroke-width="1.25"/>
<line x1="564" y1="980.68" x2="836.88" y2="1092.5" stroke="#161616" stroke-width="1.25"/>
<line x1="564" y1="1003.11" x2="836.88" y2="1092.5" stroke="#161616" stroke-width="1.25"/>
<line x1="564" y1="1028.73" x2="836.88" y2="1092.5" stroke="#161616" stroke-width="1.25"/>
<line x1="564" y1="1042.97" x2="836.88" y2="1092.5" stroke="#161616" stroke-width="1.25"/>
<polyline points="686.5,923.7 800.3,750 805.3,750" fill="none" stroke="#161616" stroke-width="1.25" stroke-linejoin="round"/>
<polyline points="682.6,963.5 800.3,782.3 805.3,782.3" fill="none" stroke="#161616" stroke-width="1.25" stroke-linejoin="round"/>
<polyline points="685.2,990.5 800.3,815 805.3,815" fill="none" stroke="#161616" stroke-width="1.25" stroke-linejoin="round"/>
<polyline points="692.9,1012.4 800.3,847.5 805.3,847.5" fill="none" stroke="#161616" stroke-width="1.25" stroke-linejoin="round"/>
<polyline points="700.6,1034.2 800.3,880.7 805.3,880.7" fill="none" stroke="#161616" stroke-width="1.25" stroke-linejoin="round"/>
<polyline points="709.6,1050.9 800.3,913.3 805.3,913.3" fill="none" stroke="#161616" stroke-width="1.25" stroke-linejoin="round"/>
<polyline points="721.2,1065.6 800.3,946.1 805.3,946.1" fill="none" stroke="#161616" stroke-width="1.25" stroke-linejoin="round"/>
<polyline points="737.9,1074.6 800.3,979.3 805.3,979.3" fill="none" stroke="#161616" stroke-width="1.25" stroke-linejoin="round"/>
<rect x="175.1" y="770.87" width="3.6" height="3.2" fill="#161616" stroke="none" stroke-width="0"/>
<rect x="175.1" y="834.93" width="3.6" height="3.2" fill="#161616" stroke="none" stroke-width="0"/>
<rect x="175.1" y="899" width="3.6" height="3.2" fill="#161616" stroke="none" stroke-width="0"/>
<rect x="175.1" y="963.07" width="3.6" height="3.2" fill="#161616" stroke="none" stroke-width="0"/>
<rect x="175.1" y="1027.13" width="3.6" height="3.2" fill="#161616" stroke="none" stroke-width="0"/>
<circle cx="176.3" cy="1092.2" r="2.6" fill="#161616"/>
<polygon points="250.85,1093.3 256.05,1093.3 254.35,1089.5 252.55,1089.5" fill="#161616"/>
<polygon points="328.6,1093.3 333.8,1093.3 332.1,1089.5 330.3,1089.5" fill="#161616"/>
<polygon points="406.35,1093.3 411.55,1093.3 409.85,1089.5 408.05,1089.5" fill="#161616"/>
<polygon points="484.1,1093.3 489.3,1093.3 487.6,1089.5 485.8,1089.5" fill="#161616"/>
<polygon points="561.4,1093.3 566.6,1093.3 564.9,1089.5 563.1,1089.5" fill="#161616"/>
<polygon points="659.5,1093.3 664.7,1093.3 663,1089.5 661.2,1089.5" fill="#161616"/>
<polygon points="757.6,1093.3 762.8,1093.3 761.1,1089.5 759.3,1089.5" fill="#161616"/>
<polygon points="854.2,1093.3 859.4,1093.3 857.7,1089.5 855.9,1089.5" fill="#161616"/>
<text transform="translate(163.3 713) scale(1.07 1)" font-size="12.5" text-anchor="end">600</text>
<text transform="translate(163.3 743.9) scale(1.07 1)" font-size="12.5" text-anchor="end">W</text>
<text transform="translate(163.3 776.3) scale(1.07 1)" font-size="12.5" text-anchor="end">500</text>
<text transform="translate(163.3 840) scale(1.07 1)" font-size="12.5" text-anchor="end">400</text>
<text transform="translate(163.3 904.4) scale(1.07 1)" font-size="12.5" text-anchor="end">300</text>
<text transform="translate(163.3 968.2) scale(1.07 1)" font-size="12.5" text-anchor="end">200</text>
<text transform="translate(163.3 1032.2) scale(1.07 1)" font-size="12.5" text-anchor="end">100</text>
<text transform="translate(163.3 1096.4) scale(1.07 1)" font-size="12.5" text-anchor="end">0</text>
<line x1="129.2" y1="797.5" x2="129.2" y2="826.5" stroke="#444" stroke-width="0.9"/>
<polygon points="129.2,787 126.2,798.5 132.2,798.5" fill="#161616"/>
<text transform="translate(139.5 815.5) scale(1.07 1)" font-size="12.5">P<tspan font-size="7.7" dy="3.1" letter-spacing="-0.3">T</tspan></text>
<text transform="translate(173.6 1116.6) scale(1.07 1)" font-size="12.5" text-anchor="middle">0</text>
<text transform="translate(251.7 1116.6) scale(1.07 1)" font-size="12.5" text-anchor="middle">100</text>
<text transform="translate(329.2 1116.6) scale(1.07 1)" font-size="12.5" text-anchor="middle">200</text>
<text transform="translate(404.7 1116.6) scale(1.07 1)" font-size="12.5" text-anchor="middle">300</text>
<text transform="translate(487 1116.6) scale(1.07 1)" font-size="12.5" text-anchor="middle">400</text>
<text transform="translate(564.2 1116.6) scale(1.07 1)" font-size="12.5" text-anchor="middle">0</text>
<text transform="translate(662.2 1116.6) scale(1.07 1)" font-size="12.5" text-anchor="middle">50</text>
<text transform="translate(759.5 1116.6) scale(1.07 1)" font-size="12.5" text-anchor="middle">100</text>
<text transform="translate(848.5 1116.6) scale(1.07 1)" font-size="12.5" text-anchor="middle">150</text>
<text transform="translate(301 1140) scale(1.05 1)" font-size="12.5">I<tspan font-size="7.7" dy="3.1" letter-spacing="-0.3">TAVM</tspan><tspan dy="-3.1">, I</tspan><tspan font-size="7.7" dy="3.1" letter-spacing="-0.3">FAVM</tspan><tspan dy="-3.1">(A)</tspan></text>
<line x1="377.7" y1="1137" x2="407.5" y2="1137" stroke="#333" stroke-width="0.9"/>
<polygon points="420,1137 406.5,1134 406.5,1140" fill="#161616"/>
<text transform="translate(673.8 1139.6) scale(1 1)" font-size="12.5">T<tspan font-size="7.7" dy="3.1" letter-spacing="-0.3">A</tspan><tspan dy="-3.1">(°C)</tspan></text>
<line x1="716.5" y1="1137" x2="746" y2="1137" stroke="#333" stroke-width="0.9"/>
<polygon points="758.5,1137 745,1134 745,1140" fill="#161616"/>
<text transform="translate(715 730.1) scale(1.07 1)" font-size="12.5">R<tspan font-size="7.7" dy="3.1" letter-spacing="-0.3">thJA</tspan><tspan dy="-3.1">:</tspan></text>
<text transform="translate(809.1 730.1) scale(1.07 1)" font-size="12.5">(K/W)</text>
<text transform="translate(816.6 752.1) scale(1.07 1)" font-size="12.5">0.3</text>
<text transform="translate(816.6 785) scale(1.07 1)" font-size="12.5">0.4</text>
<text transform="translate(816.6 818.3) scale(1.07 1)" font-size="12.5">0.5</text>
<text transform="translate(816.6 851.5) scale(1.07 1)" font-size="12.5">0.6</text>
<text transform="translate(816.6 884.9) scale(1.07 1)" font-size="12.5">0.8</text>
<text transform="translate(816.6 918.4) scale(1.07 1)" font-size="12.5">1</text>
<text transform="translate(816.6 951.3) scale(1.07 1)" font-size="12.5">1.4</text>
<text transform="translate(816.6 984.6) scale(1.07 1)" font-size="12.5">1.8</text>
<text transform="translate(473.4 973) scale(1 1)" font-size="13" style="fill:#2b2b2b">DC</text>
<text transform="translate(474 990.6) scale(1 1)" font-size="13" style="fill:#2b2b2b">180 °sin</text>
<text transform="translate(494.3 1007.9) scale(1 1)" font-size="13" text-anchor="end" style="fill:#2b2b2b">120</text>
<text transform="translate(499.9 1006.7) scale(1 1)" font-size="11">°</text>
<polyline points="497,1007.3 507,1007.3 507,996.3 523.3,996.3 523.3,1007.3 533,1007.3" fill="none" stroke="#161616" stroke-width="1.3" stroke-linejoin="round"/>
<text transform="translate(494.3 1025.2) scale(1 1)" font-size="13" text-anchor="end" style="fill:#2b2b2b">60</text>
<text transform="translate(499.9 1024) scale(1 1)" font-size="11">°</text>
<polyline points="497,1024.6 507,1024.6 507,1013.6 523.3,1013.6 523.3,1024.6 533,1024.6" fill="none" stroke="#161616" stroke-width="1.3" stroke-linejoin="round"/>
<text transform="translate(494.3 1042.6) scale(1 1)" font-size="13" text-anchor="end" style="fill:#2b2b2b">30</text>
<text transform="translate(499.9 1041.4) scale(1 1)" font-size="11">°</text>
<polyline points="497,1042 507,1042 507,1031 523.3,1031 523.3,1042 533,1042" fill="none" stroke="#161616" stroke-width="1.3" stroke-linejoin="round"/>
<line x1="169" y1="1215.2" x2="169" y2="1612.4" stroke="#161616" stroke-width="1.1"/>
<line x1="188.27" y1="1215.2" x2="188.27" y2="1612.4" stroke="#161616" stroke-width="1.1"/>
<line x1="207.54" y1="1215.2" x2="207.54" y2="1612.4" stroke="#161616" stroke-width="1.1"/>
<line x1="226.81" y1="1215.2" x2="226.81" y2="1612.4" stroke="#161616" stroke-width="1.1"/>
<line x1="246.08" y1="1215.2" x2="246.08" y2="1612.4" stroke="#161616" stroke-width="1.1"/>
<line x1="265.35" y1="1215.2" x2="265.35" y2="1612.4" stroke="#161616" stroke-width="1.1"/>
<line x1="284.62" y1="1215.2" x2="284.62" y2="1612.4" stroke="#161616" stroke-width="1.1"/>
<line x1="303.89" y1="1215.2" x2="303.89" y2="1612.4" stroke="#161616" stroke-width="1.1"/>
<line x1="323.16" y1="1215.2" x2="323.16" y2="1612.4" stroke="#161616" stroke-width="1.1"/>
<line x1="342.43" y1="1215.2" x2="342.43" y2="1612.4" stroke="#161616" stroke-width="1.1"/>
<line x1="361.7" y1="1215.2" x2="361.7" y2="1612.4" stroke="#161616" stroke-width="1.1"/>
<line x1="380.97" y1="1215.2" x2="380.97" y2="1612.4" stroke="#161616" stroke-width="1.1"/>
<line x1="400.24" y1="1215.2" x2="400.24" y2="1612.4" stroke="#161616" stroke-width="1.1"/>
<line x1="419.51" y1="1215.2" x2="419.51" y2="1612.4" stroke="#161616" stroke-width="1.1"/>
<line x1="438.78" y1="1215.2" x2="438.78" y2="1453.52" stroke="#161616" stroke-width="1.1"/>
<line x1="438.78" y1="1532.96" x2="438.78" y2="1612.4" stroke="#161616" stroke-width="1.1"/>
<line x1="458.05" y1="1215.2" x2="458.05" y2="1453.52" stroke="#161616" stroke-width="1.1"/>
<line x1="458.05" y1="1532.96" x2="458.05" y2="1612.4" stroke="#161616" stroke-width="1.1"/>
<line x1="477.32" y1="1215.2" x2="477.32" y2="1453.52" stroke="#161616" stroke-width="1.1"/>
<line x1="477.32" y1="1532.96" x2="477.32" y2="1612.4" stroke="#161616" stroke-width="1.1"/>
<line x1="496.59" y1="1215.2" x2="496.59" y2="1453.52" stroke="#161616" stroke-width="1.1"/>
<line x1="496.59" y1="1532.96" x2="496.59" y2="1612.4" stroke="#161616" stroke-width="1.1"/>
<line x1="515.86" y1="1215.2" x2="515.86" y2="1453.52" stroke="#161616" stroke-width="1.1"/>
<line x1="515.86" y1="1532.96" x2="515.86" y2="1612.4" stroke="#161616" stroke-width="1.1"/>
<line x1="535.13" y1="1215.2" x2="535.13" y2="1612.4" stroke="#161616" stroke-width="1.1"/>
<line x1="555.6" y1="1215.2" x2="555.6" y2="1612.4" stroke="#161616" stroke-width="1.1"/>
<line x1="575.84" y1="1215.2" x2="575.84" y2="1612.4" stroke="#161616" stroke-width="1.1"/>
<line x1="596.08" y1="1215.2" x2="596.08" y2="1612.4" stroke="#161616" stroke-width="1.1"/>
<line x1="616.32" y1="1215.2" x2="616.32" y2="1612.4" stroke="#161616" stroke-width="1.1"/>
<line x1="636.56" y1="1215.2" x2="636.56" y2="1612.4" stroke="#161616" stroke-width="1.1"/>
<line x1="656.8" y1="1215.2" x2="656.8" y2="1612.4" stroke="#161616" stroke-width="1.1"/>
<line x1="677.04" y1="1215.2" x2="677.04" y2="1612.4" stroke="#161616" stroke-width="1.1"/>
<line x1="697.28" y1="1254.92" x2="697.28" y2="1612.4" stroke="#161616" stroke-width="1.1"/>
<line x1="717.52" y1="1254.92" x2="717.52" y2="1612.4" stroke="#161616" stroke-width="1.1"/>
<line x1="737.76" y1="1254.92" x2="737.76" y2="1612.4" stroke="#161616" stroke-width="1.1"/>
<line x1="756.9" y1="1254.92" x2="756.9" y2="1612.4" stroke="#161616" stroke-width="1.1"/>
<line x1="778.24" y1="1532.96" x2="778.24" y2="1612.4" stroke="#161616" stroke-width="1.1"/>
<line x1="798.48" y1="1532.96" x2="798.48" y2="1612.4" stroke="#161616" stroke-width="1.1"/>
<line x1="818.72" y1="1532.96" x2="818.72" y2="1612.4" stroke="#161616" stroke-width="1.1"/>
<line x1="838.96" y1="1532.96" x2="838.96" y2="1612.4" stroke="#161616" stroke-width="1.1"/>
<line x1="859.2" y1="1215.2" x2="859.2" y2="1612.4" stroke="#161616" stroke-width="1.1"/>
<line x1="168.4" y1="1612.4" x2="859.8" y2="1612.4" stroke="#161616" stroke-width="1.1"/>
<line x1="168.4" y1="1572.68" x2="859.8" y2="1572.68" stroke="#161616" stroke-width="1.1"/>
<line x1="168.4" y1="1532.96" x2="859.8" y2="1532.96" stroke="#161616" stroke-width="1.1"/>
<line x1="168.4" y1="1493.24" x2="419.51" y2="1493.24" stroke="#161616" stroke-width="1.1"/>
<line x1="535.13" y1="1493.24" x2="757.5" y2="1493.24" stroke="#161616" stroke-width="1.1"/>
<line x1="168.4" y1="1453.52" x2="757.5" y2="1453.52" stroke="#161616" stroke-width="1.1"/>
<line x1="168.4" y1="1413.8" x2="757.5" y2="1413.8" stroke="#161616" stroke-width="1.1"/>
<line x1="168.4" y1="1374.08" x2="757.5" y2="1374.08" stroke="#161616" stroke-width="1.1"/>
<line x1="168.4" y1="1334.36" x2="757.5" y2="1334.36" stroke="#161616" stroke-width="1.1"/>
<line x1="168.4" y1="1294.64" x2="757.5" y2="1294.64" stroke="#161616" stroke-width="1.1"/>
<line x1="168.4" y1="1254.92" x2="757.5" y2="1254.92" stroke="#161616" stroke-width="1.1"/>
<line x1="168.4" y1="1215.2" x2="859.8" y2="1215.2" stroke="#161616" stroke-width="1.1"/>
<path d="M169 1612.4 C172.21 1610.49 181.85 1605.07 188.27 1600.96 C194.69 1596.86 201.12 1592.49 207.54 1587.77 C213.96 1583.06 220.39 1577.63 226.81 1572.68 C233.23 1567.73 239.66 1563.12 246.08 1558.06 C252.5 1553.01 254.11 1552.4 265.35 1542.33 C276.59 1532.27 297.47 1513.47 313.52 1497.69 C329.58 1481.91 344.12 1468.16 361.7 1447.64 C379.28 1427.12 399.84 1399.55 419.03 1374.56 C438.22 1349.56 462.87 1316.54 476.84 1297.66 C490.81 1278.78 498.52 1267.34 502.85 1261.28" fill="none" stroke="#161616" stroke-width="1.5" stroke-linecap="round"/>
<line x1="571.3" y1="1260.2" x2="837.16" y2="1612.1" stroke="#161616" stroke-width="1.25"/>
<line x1="571.3" y1="1260.2" x2="573.6" y2="1257.6" stroke="#161616" stroke-width="1.1"/>
<line x1="555.6" y1="1293.9" x2="837.16" y2="1612.1" stroke="#161616" stroke-width="1.25"/>
<line x1="555.6" y1="1364.6" x2="837.16" y2="1612.1" stroke="#161616" stroke-width="1.25"/>
<line x1="555.6" y1="1410.9" x2="837.16" y2="1612.1" stroke="#161616" stroke-width="1.25"/>
<line x1="555.6" y1="1441.5" x2="837.16" y2="1612.1" stroke="#161616" stroke-width="1.25"/>
<line x1="555.6" y1="1489.6" x2="837.16" y2="1612.1" stroke="#161616" stroke-width="1.25"/>
<line x1="555.6" y1="1515.2" x2="837.16" y2="1612.1" stroke="#161616" stroke-width="1.25"/>
<line x1="555.6" y1="1545.1" x2="837.16" y2="1612.1" stroke="#161616" stroke-width="1.25"/>
<polyline points="681.3,1405.7 762.3,1257.5 768.7,1257.5" fill="none" stroke="#161616" stroke-width="1.25" stroke-linejoin="round"/>
<polyline points="682.6,1433.4 762.3,1290.6 768.7,1290.6" fill="none" stroke="#161616" stroke-width="1.25" stroke-linejoin="round"/>
<polyline points="680,1473.2 762.3,1324.8 768.7,1324.8" fill="none" stroke="#161616" stroke-width="1.25" stroke-linejoin="round"/>
<polyline points="683.9,1500.7 762.3,1358.2 768.7,1358.2" fill="none" stroke="#161616" stroke-width="1.25" stroke-linejoin="round"/>
<polyline points="690.3,1522.1 762.3,1392.4 768.7,1392.4" fill="none" stroke="#161616" stroke-width="1.25" stroke-linejoin="round"/>
<polyline points="696,1549 762.3,1425.8 768.7,1425.8" fill="none" stroke="#161616" stroke-width="1.25" stroke-linejoin="round"/>
<polyline points="704.5,1565.8 762.3,1459.3 768.7,1459.3" fill="none" stroke="#161616" stroke-width="1.25" stroke-linejoin="round"/>
<polyline points="714.8,1582.5 762.3,1492.5 768.7,1492.5" fill="none" stroke="#161616" stroke-width="1.25" stroke-linejoin="round"/>
<rect x="168.4" y="1213.6" width="3.6" height="3.2" fill="#161616" stroke="none" stroke-width="0"/>
<rect x="168.4" y="1293.04" width="3.6" height="3.2" fill="#161616" stroke="none" stroke-width="0"/>
<rect x="168.4" y="1372.48" width="3.6" height="3.2" fill="#161616" stroke="none" stroke-width="0"/>
<rect x="168.4" y="1451.92" width="3.6" height="3.2" fill="#161616" stroke="none" stroke-width="0"/>
<rect x="168.4" y="1531.36" width="3.6" height="3.2" fill="#161616" stroke="none" stroke-width="0"/>
<circle cx="169.6" cy="1611.8" r="2.6" fill="#161616"/>
<polygon points="262.55,1612.9 268.15,1612.9 266.25,1608.7 264.45,1608.7" fill="#161616"/>
<polygon points="358.9,1612.9 364.5,1612.9 362.6,1608.7 360.8,1608.7" fill="#161616"/>
<polygon points="455.25,1612.9 460.85,1612.9 458.95,1608.7 457.15,1608.7" fill="#161616"/>
<polygon points="552.8,1612.9 558.4,1612.9 556.5,1608.7 554.7,1608.7" fill="#161616"/>
<polygon points="654,1612.9 659.6,1612.9 657.7,1608.7 655.9,1608.7" fill="#161616"/>
<polygon points="754.1,1612.9 759.7,1612.9 757.8,1608.7 756,1608.7" fill="#161616"/>
<polygon points="854.9,1612.9 860.5,1612.9 858.6,1608.7 856.8,1608.7" fill="#161616"/>
<text transform="translate(162.6 1220.5) scale(1.07 1)" font-size="12.5" text-anchor="end">2500</text>
<text transform="translate(162.6 1252.6) scale(1.07 1)" font-size="12.5" text-anchor="end">W</text>
<text transform="translate(162.6 1299.2) scale(1.07 1)" font-size="12.5" text-anchor="end">2000</text>
<text transform="translate(162.6 1378.3) scale(1.07 1)" font-size="12.5" text-anchor="end">1500</text>
<text transform="translate(162.6 1457.5) scale(1.07 1)" font-size="12.5" text-anchor="end">1000</text>
<text transform="translate(162.6 1536.6) scale(1.07 1)" font-size="12.5" text-anchor="end">500</text>
<text transform="translate(162.6 1615.5) scale(1.07 1)" font-size="12.5" text-anchor="end">0</text>
<line x1="129.2" y1="1325.5" x2="129.2" y2="1355" stroke="#444" stroke-width="0.9"/>
<polygon points="129.2,1315 126.2,1326.5 132.2,1326.5" fill="#161616"/>
<text transform="translate(140.5 1341) scale(1.07 1)" font-size="12.5">P<tspan font-size="7.7" dy="3.1" letter-spacing="-0.3">tot</tspan></text>
<text transform="translate(173.2 1636.2) scale(1.07 1)" font-size="12.5" text-anchor="middle">0</text>
<text transform="translate(262.5 1636.2) scale(1.07 1)" font-size="12.5" text-anchor="middle">200</text>
<text transform="translate(360 1636.2) scale(1.07 1)" font-size="12.5" text-anchor="middle">400</text>
<text transform="translate(460.2 1636.2) scale(1.07 1)" font-size="12.5" text-anchor="middle">600</text>
<text transform="translate(554 1636.2) scale(1.07 1)" font-size="12.5" text-anchor="middle">0</text>
<text transform="translate(655 1636.2) scale(1.07 1)" font-size="12.5" text-anchor="middle">50</text>
<text transform="translate(754.5 1636.2) scale(1.07 1)" font-size="12.5" text-anchor="middle">100</text>
<text transform="translate(848.5 1636.2) scale(1.07 1)" font-size="12.5" text-anchor="middle">150</text>
<text transform="translate(333.3 1658.2) scale(1.01 1)" font-size="12.5">I<tspan font-size="7.7" dy="3.1" letter-spacing="-0.3">dAVM</tspan><tspan dy="-3.1">(A)</tspan></text>
<line x1="377" y1="1655" x2="407" y2="1655" stroke="#333" stroke-width="0.9"/>
<polygon points="419.5,1655 406,1652 406,1658" fill="#161616"/>
<text transform="translate(673.6 1658.3) scale(1 1)" font-size="12.5">T<tspan font-size="7.7" dy="3.1" letter-spacing="-0.3">A</tspan><tspan dy="-3.1">(°C)</tspan></text>
<line x1="716.5" y1="1655" x2="746" y2="1655" stroke="#333" stroke-width="0.9"/>
<polygon points="758.5,1655 745,1652 745,1658" fill="#161616"/>
<text transform="translate(713.5 1239) scale(1.07 1)" font-size="12.5">R<tspan font-size="7.7" dy="3.1" letter-spacing="-0.3">thKA</tspan><tspan dy="-3.1">:</tspan></text>
<text transform="translate(784.7 1239) scale(1.07 1)" font-size="12.5">(K/W)</text>
<text transform="translate(784.7 1264) scale(1.07 1)" font-size="12.5">0.03</text>
<text transform="translate(784.7 1297.5) scale(1.07 1)" font-size="12.5">0.04</text>
<text transform="translate(784.7 1330.5) scale(1.07 1)" font-size="12.5">0.06</text>
<text transform="translate(784.7 1364) scale(1.07 1)" font-size="12.5">0.08</text>
<text transform="translate(784.7 1397.5) scale(1.07 1)" font-size="12.5">0.1</text>
<text transform="translate(784.7 1430.5) scale(1.07 1)" font-size="12.5">0.15</text>
<text transform="translate(784.7 1464) scale(1.07 1)" font-size="12.5">0.2</text>
<text transform="translate(784.7 1497) scale(1.07 1)" font-size="12.5">0.3</text>
<text transform="translate(429.3 1473) scale(1.03 1)" font-size="13">Circuit</text>
<text transform="translate(429.3 1491) scale(1.03 1)" font-size="13">B6</text>
<text transform="translate(429.3 1509) scale(1.03 1)" font-size="13">3 x MCC220 or</text>
<text transform="translate(429.3 1526.5) scale(1.03 1)" font-size="13">3 x MCD220</text>
</svg>
</body>
</html>
